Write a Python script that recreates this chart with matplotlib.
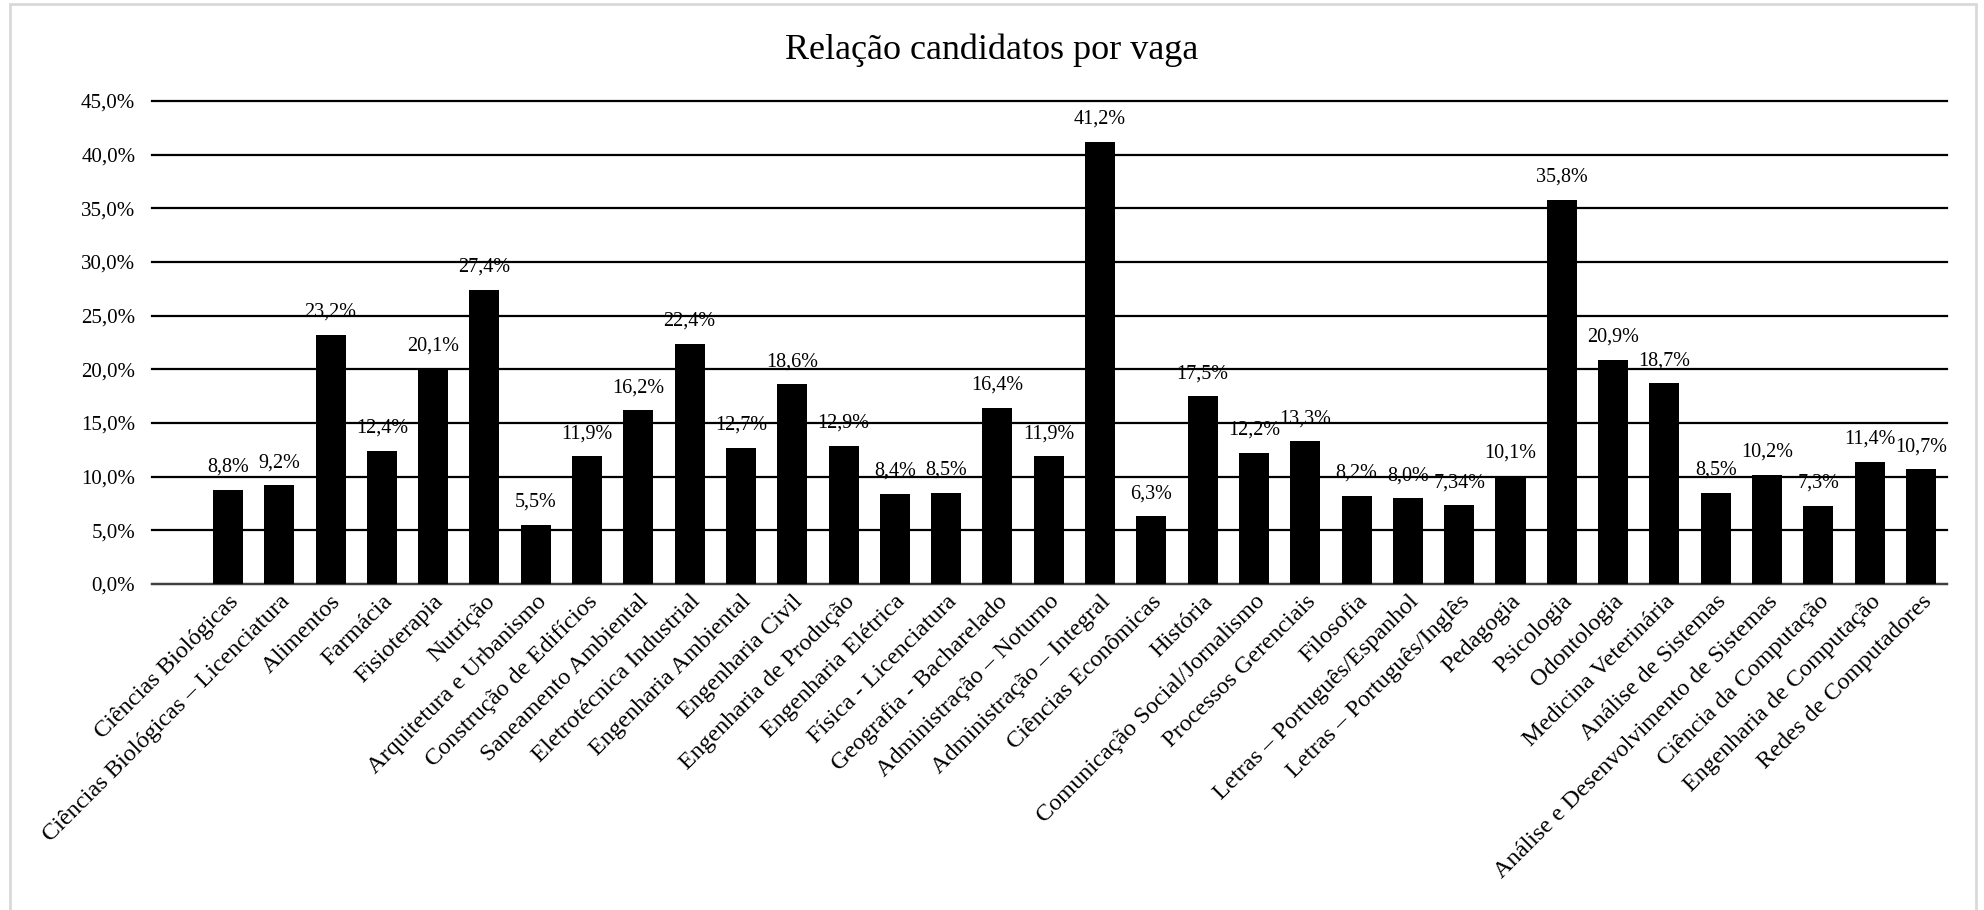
import matplotlib
matplotlib.use("Agg")
import matplotlib.pyplot as plt
from matplotlib.patches import Rectangle

plt.rcParams['font.family'] = ['Liberation Serif', 'DejaVu Serif']

cursos = [
    'Ciências Biológicas', 'Ciências Biológicas – Licenciatura', 'Alimentos',
    'Farmácia', 'Fisioterapia', 'Nutrição', 'Arquitetura e Urbanismo',
    'Construção de Edifícios', 'Saneamento Ambiental', 'Eletrotécnica Industrial',
    'Engenharia Ambiental', 'Engenharia Civil', 'Engenharia de Produção',
    'Engenharia Elétrica', 'Física - Licenciatura', 'Geografia - Bacharelado',
    'Administração – Noturno', 'Administração – Integral', 'Ciências Econômicas',
    'História', 'Comunicação Social/Jornalismo', 'Processos Gerenciais',
    'Filosofia', 'Letras – Português/Espanhol', 'Letras – Português/Inglês',
    'Pedagogia', 'Psicologia', 'Odontologia', 'Medicina Veterinária',
    'Análise de Sistemas', 'Análise e Desenvolvimento de Sistemas',
    'Ciência da Computação', 'Engenharia de Computação', 'Redes de Computadores',
]
relacao = [
    8.8, 9.2, 23.2, 12.4, 20.1, 27.4, 5.5, 11.9, 16.2, 22.4,
    12.7, 18.6, 12.9, 8.4, 8.5, 16.4, 11.9, 41.2, 6.3, 17.5,
    12.2, 13.3, 8.2, 8.0, 7.34, 10.1, 35.8, 20.9, 18.7, 8.5,
    10.2, 7.3, 11.4, 10.7,
]
yticks = [0, 5, 10, 15, 20, 25, 30, 35, 40, 45]


def pct(v, digits=None):
    s = f"{v:.1f}" if digits == 1 else f"{v:g}"
    if '.' not in s:
        s += '.0'
    return s.replace('.', ',') + '%'


fig = plt.figure(figsize=(19.84, 9.10), dpi=100)
ax = fig.add_axes([0.0766, 0.3582, 0.9048, 0.5308])

x = list(range(len(cursos)))
ax.bar(x, relacao, width=0.585, color='black', zorder=3)

for xi, v in zip(x, relacao):
    ax.text(xi, v + 2.1, pct(v), ha='center', va='center', fontsize=14.5, zorder=4)

ax.set_ylim(0, 45)
ax.set_xlim(-1.48, len(cursos) - 0.49)
ax.set_yticks(yticks)
ax.set_yticklabels([pct(t, 1) for t in yticks], fontsize=15)
ax.yaxis.grid(True, color='black', linewidth=1.6, zorder=0)
for gl in ax.get_ygridlines():
    gl.set_clip_on(False)
ax.set_axisbelow(True)
ax.tick_params(axis='y', length=0, pad=12)

ax.set_xticks(x)
ax.set_xticklabels(cursos, rotation=45, ha='right', rotation_mode='anchor', fontsize=17.5)
ax.tick_params(axis='x', length=0, pad=5)

for side in ['left', 'right', 'top']:
    ax.spines[side].set_visible(False)
ax.spines['bottom'].set_color('#404040')
ax.spines['bottom'].set_linewidth(1.6)

fig.text(0.5, 0.945, 'Relação candidatos por vaga', ha='center', va='center', fontsize=26)

# light grey frame around the chart area
fig.patches.append(Rectangle((10 / 1984, -0.01), 1966 / 1984, 1.01 - 4 / 910,
                             transform=fig.transFigure, fill=False,
                             edgecolor='#d9d9d9', linewidth=2))

fig.savefig('out.png', dpi=100)
